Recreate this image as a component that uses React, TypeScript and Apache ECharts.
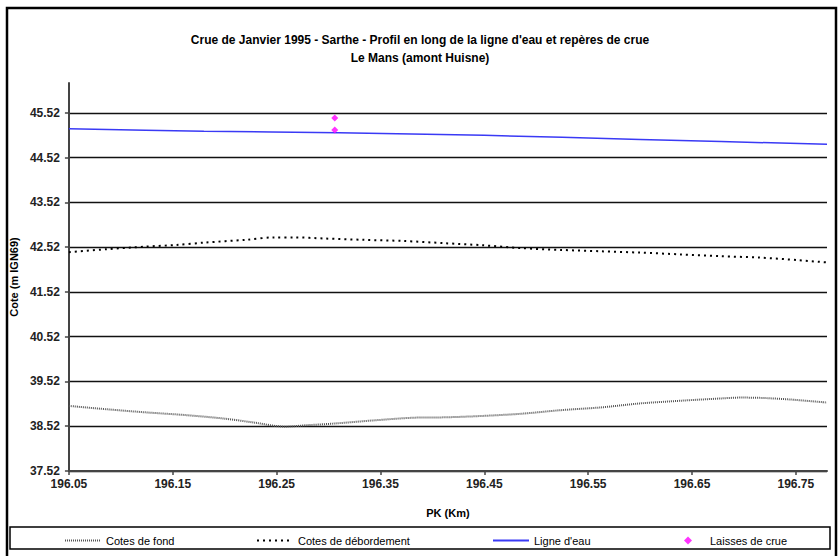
import React, { useEffect, useRef } from "react";
import * as echarts from "echarts";

const TITLE_1 = "Crue de Janvier 1995 - Sarthe - Profil en long de la ligne d'eau et repères de crue";
const TITLE_2 = "Le Mans (amont Huisne)";
const X_NAME = "PK (Km)";
const Y_NAME = "Cote (m IGN69)";

const X_MIN = 196.05;
const X_MAX = 196.78;
const Y_MIN = 37.52;
const Y_MAX = 46.19;

const PK_FOND = [196.05, 196.086, 196.124, 196.162, 196.2, 196.229, 196.258, 196.277, 196.305, 196.343, 196.381, 196.413, 196.448, 196.486, 196.524, 196.562, 196.6, 196.639, 196.677, 196.696, 196.715, 196.743, 196.78];
const FOND = [38.975, 38.9, 38.83, 38.77, 38.69, 38.6, 38.51, 38.54, 38.58, 38.65, 38.71, 38.72, 38.75, 38.8, 38.88, 38.94, 39.03, 39.09, 39.14, 39.16, 39.155, 39.12, 39.05];

const PK_DEB = [196.05, 196.086, 196.124, 196.153, 196.181, 196.22, 196.248, 196.267, 196.296, 196.334, 196.372, 196.412, 196.448, 196.486, 196.524, 196.562, 196.6, 196.639, 196.677, 196.715, 196.753, 196.78];
const DEB = [42.41, 42.475, 42.535, 42.57, 42.625, 42.685, 42.74, 42.74, 42.715, 42.685, 42.66, 42.61, 42.565, 42.5, 42.46, 42.43, 42.4, 42.36, 42.32, 42.29, 42.23, 42.18];

const PK_EAU = [196.05, 196.18, 196.31, 196.45, 196.6, 196.78];
const EAU = [45.17, 45.11, 45.08, 45.02, 44.93, 44.82];

const PK_LAISSES = [196.306, 196.306];
const LAISSES = [45.41, 45.14];

const NAMES = ["Cotes de fond", "Cotes de débordement", "Ligne d'eau", "Laisses de crue"];

const FONT = "'Liberation Sans', Arial, sans-serif";

function toXY(pks: number[], vals: number[]) {
  return pks.map((p, i) => [+(p - X_MIN).toFixed(4), +(vals[i] - Y_MIN).toFixed(4)]);
}

export default function App() {
  const ref = useRef<HTMLDivElement>(null);
  useEffect(() => {
    if (!ref.current) return;
    const chart = echarts.init(ref.current, null, { renderer: "svg" });
    const legendBase = {
      top: 535,
      itemWidth: 36,
      itemHeight: 8,
      padding: 0,
      textStyle: { fontFamily: FONT, fontSize: 11, color: "#000" },
    };
    const lineLegend = {
      ...legendBase,
      itemStyle: { color: "transparent", borderColor: "transparent", borderWidth: 0 },
    };
    chart.setOption({
      animation: false,
      backgroundColor: "#fff",
      title: [
        {
          text: TITLE_1,
          left: "center",
          top: 34,
          textStyle: { fontFamily: FONT, fontSize: 12, fontWeight: "bold", color: "#000" },
          padding: 0,
        },
        {
          text: TITLE_2,
          left: "center",
          top: 52,
          textStyle: { fontFamily: FONT, fontSize: 12, fontWeight: "bold", color: "#000" },
          padding: 0,
        },
      ],
      legend: [
        { ...lineLegend, left: 64, data: [NAMES[0]] },
        { ...lineLegend, left: 256, data: [NAMES[1]] },
        { ...lineLegend, left: 492, data: [NAMES[2]] },
        {
          ...legendBase,
          left: 684,
          itemWidth: 8,
          itemHeight: 8,
          textStyle: { ...legendBase.textStyle, padding: [0, 0, 0, 13] },
          data: [NAMES[3]],
        },
      ],
      grid: { left: 62, top: 83, right: 13, bottom: 85, containLabel: false },
      xAxis: {
        type: "value",
        min: 0,
        max: +(X_MAX - X_MIN).toFixed(4),
        interval: 0.1,
        name: X_NAME,
        nameLocation: "middle",
        nameGap: 36,
        nameTextStyle: { fontFamily: FONT, fontSize: 11, fontWeight: "bold", color: "#000" },
        axisLine: { show: true, lineStyle: { color: "#444", width: 2 } },
        axisTick: { show: true, length: 4, lineStyle: { color: "#444", width: 1.5 } },
        axisLabel: {
          fontFamily: FONT,
          fontSize: 12,
          fontWeight: "bold",
          color: "#222",
          margin: 7,
          showMaxLabel: false,
          formatter: (v: number) => (X_MIN + v).toFixed(2),
        },
        splitLine: { show: false },
      },
      yAxis: {
        type: "value",
        min: 0,
        max: +(Y_MAX - Y_MIN).toFixed(4),
        interval: 1,
        name: Y_NAME,
        nameLocation: "middle",
        nameGap: 47,
        nameTextStyle: { fontFamily: FONT, fontSize: 11, fontWeight: "bold", color: "#000" },
        axisLine: { show: true, lineStyle: { color: "#444", width: 2 } },
        axisTick: { show: true, length: 4, lineStyle: { color: "#444", width: 1.5 } },
        axisLabel: {
          fontFamily: FONT,
          fontSize: 12,
          fontWeight: "bold",
          color: "#222",
          margin: 9,
          showMaxLabel: false,
          formatter: (v: number) => (Y_MIN + v).toFixed(2),
        },
        splitLine: { show: true, showMaxLine: false, lineStyle: { color: "#111", width: 1.3 } },
      },
      series: [
        {
          name: NAMES[0],
          type: "line",
          data: toXY(PK_FOND, FOND),
          smooth: 0.3,
          showSymbol: false,
          symbol: "none",
          lineStyle: { color: "#555", width: 2, type: [1, 1] },
          itemStyle: { color: "#555" },
        },
        {
          name: NAMES[1],
          type: "line",
          data: toXY(PK_DEB, DEB),
          smooth: 0.3,
          showSymbol: false,
          symbol: "none",
          lineStyle: { color: "#000", width: 2, type: [2, 4] },
          itemStyle: { color: "#000" },
        },
        {
          name: NAMES[2],
          type: "line",
          data: toXY(PK_EAU, EAU),
          smooth: 0.3,
          showSymbol: false,
          symbol: "none",
          lineStyle: { color: "#3a3af5", width: 1.5 },
          itemStyle: { color: "#3a3af5" },
        },
        {
          name: NAMES[3],
          type: "scatter",
          data: toXY(PK_LAISSES, LAISSES),
          symbol: "diamond",
          symbolSize: 7,
          itemStyle: { color: "#ff00ff" },
          z: 5,
        },
      ],
      graphic: [
        {
          type: "rect",
          shape: { x: 10, y: 527, width: 820, height: 22 },
          style: { fill: "none", stroke: "#000", lineWidth: 1.5 },
          z: 100,
        },
        {
          type: "rect",
          shape: { x: 7, y: 8, width: 829, height: 600 },
          style: { fill: "none", stroke: "#000", lineWidth: 2.5 },
          z: 100,
        },
      ],
    });
    return () => chart.dispose();
  }, []);
  return (
    <div
      ref={ref}
      style={{ position: "fixed", left: 0, top: 0, width: 840, height: 556 }}
    />
  );
}
